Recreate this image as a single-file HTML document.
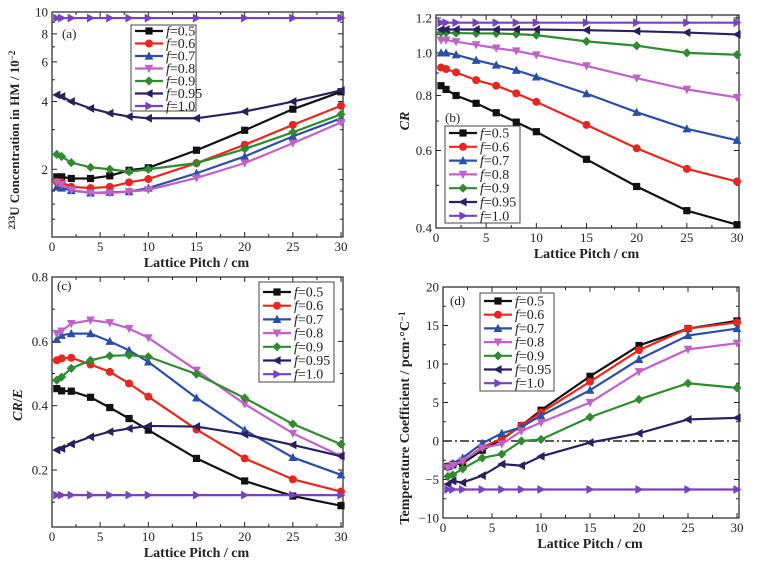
<!DOCTYPE html>
<html><head><meta charset="utf-8"><style>
body{margin:0;background:#fff;width:784px;height:568px;overflow:hidden}
svg{font-family:"Liberation Serif",serif}
</style></head><body>
<svg id="c" width="784" height="568" xmlns="http://www.w3.org/2000/svg"></svg>
<script>
const xs=[0.5,1,2,4,6,8,10,15,20,25,30];
const seriesNames=["f=0.5","f=0.6","f=0.7","f=0.8","f=0.9","f=0.95","f=1.0"];
const colors=["#111","#e8261d","#2a4fa8","#c060c8","#2e8b2e","#2a2060","#7a40c0"];
const markers=["sq","ci","tu","td","di","tl","tr"];
// (a) U233 concentration
const aF05=[1.85,1.85,1.82,1.82,1.87,1.98,2.03,2.43,2.98,3.70,4.42];
const aF06=[1.76,1.75,1.67,1.65,1.67,1.75,1.81,2.13,2.57,3.15,3.83];
const aF07=[1.67,1.65,1.61,1.57,1.58,1.59,1.65,1.92,2.28,2.80,3.37];
const aF08=[1.75,1.71,1.62,1.57,1.57,1.59,1.62,1.83,2.13,2.61,3.23];
const aF09=[2.33,2.28,2.14,2.04,2.0,1.95,2.0,2.13,2.46,2.92,3.51];
const aF095=[4.28,4.21,4.0,3.73,3.55,3.43,3.37,3.37,3.61,4.0,4.48];
const aF10=[9.4,9.4,9.4,9.4,9.4,9.4,9.4,9.4,9.4,9.4,9.4];
// (b) CR
const bF05=[0.842,0.826,0.80,0.768,0.731,0.696,0.662,0.573,0.497,0.438,0.407];
const bF06=[0.926,0.919,0.903,0.867,0.842,0.809,0.774,0.686,0.607,0.545,0.510];
const bF07=[1.0,1.0,0.99,0.962,0.938,0.913,0.882,0.808,0.733,0.672,0.633];
const bF08=[1.069,1.069,1.06,1.043,1.025,1.01,0.989,0.934,0.876,0.826,0.792];
const bF09=[1.112,1.112,1.109,1.107,1.107,1.103,1.097,1.062,1.038,1.0,0.99];
const bF095=[1.13,1.13,1.13,1.13,1.13,1.13,1.13,1.126,1.12,1.112,1.101];
const bF10=[1.171,1.171,1.171,1.171,1.171,1.171,1.171,1.171,1.171,1.171,1.171];
// (c) CR/E
const cF05=[0.453,0.446,0.445,0.426,0.394,0.360,0.324,0.236,0.166,0.119,0.089];
const cF06=[0.541,0.547,0.549,0.528,0.505,0.469,0.428,0.326,0.236,0.171,0.133];
const cF07=[0.606,0.619,0.624,0.624,0.600,0.572,0.536,0.424,0.324,0.239,0.185];
const cF08=[0.624,0.632,0.655,0.666,0.658,0.640,0.611,0.510,0.405,0.314,0.243];
const cF09=[0.479,0.489,0.516,0.541,0.555,0.557,0.552,0.498,0.424,0.343,0.280];
const cF095=[0.262,0.267,0.281,0.303,0.319,0.329,0.337,0.335,0.311,0.278,0.243];
const cF10=[0.122,0.122,0.122,0.122,0.122,0.122,0.122,0.122,0.122,0.122,0.122];
// (d) Temperature coefficient
const dF05=[-3.3,-3.1,-2.9,-1.2,0.2,2.0,4.0,8.4,12.4,14.6,15.6];
const dF06=[-3.4,-3.0,-2.6,-0.8,0.3,2.0,3.7,7.7,11.8,14.6,15.4];
const dF07=[-3.3,-2.9,-2.2,-0.3,1.0,1.8,3.3,6.6,10.6,13.7,14.6];
const dF08=[-3.5,-3.2,-2.6,-0.9,-0.4,1.3,2.4,5.0,9.0,11.9,12.7];
const dF09=[-4.6,-4.4,-3.6,-2.2,-1.7,0.0,0.2,3.1,5.4,7.5,6.9];
const dF095=[-5.6,-5.2,-5.4,-4.5,-3.0,-3.2,-2.0,-0.2,1.0,2.8,3.0];
const dF10=[-6.3,-6.3,-6.3,-6.3,-6.3,-6.3,-6.3,-6.3,-6.3,-6.3,-6.3];
const xTicks=[0,5,10,15,20,25,30];
const aTicks=[2,4,6,8,10];
const bTicks=[0.4,0.6,0.8,1.0,1.2];
const cTicks=[0.2,0.4,0.6,0.8];
const dTicks=[-10,-5,0,5,10,15,20];

const svg=document.getElementById('c');
const NS="http://www.w3.org/2000/svg";
function mk(tag,at,parent){const e=document.createElementNS(NS,tag);for(const k in at)e.setAttribute(k,at[k]);(parent||svg).appendChild(e);return e;}

function marker(g,type,x,y,col){
  const s=3.6;let e;
  if(type==="sq")e=mk('rect',{x:x-s,y:y-s,width:2*s,height:2*s,fill:col},g);
  else if(type==="ci")e=mk('circle',{cx:x,cy:y,r:s+0.4,fill:col},g);
  else{let p;
    if(type==="tu")p=[[x,y-s-1],[x-s-0.8,y+s],[x+s+0.8,y+s]];
    if(type==="td")p=[[x,y+s+1],[x-s-0.8,y-s],[x+s+0.8,y-s]];
    if(type==="di")p=[[x,y-s-1],[x+s+1,y],[x,y+s+1],[x-s-1,y]];
    if(type==="tl")p=[[x-s-1,y],[x+s,y-s-0.8],[x+s,y+s+0.8]];
    if(type==="tr")p=[[x+s+1,y],[x-s,y-s-0.8],[x-s,y+s+0.8]];
    e=mk('polygon',{points:p.map(q=>q.join(',')).join(' '),fill:col},g);}
  
  
}

function panel(P){
  const g=mk('g',{});
  
  
  const X=v=>P.x0+(v-0)/30*(P.x1-P.x0);
  const Y=P.log?(v=>P.yA+(Math.log10(P.vA)-Math.log10(v))/(Math.log10(P.vA)-Math.log10(P.vB))*(P.yB-P.yA))
               :(v=>P.yA+(P.vA-v)/(P.vA-P.vB)*(P.yB-P.yA));
  const fr=mk('rect',{x:P.x0,y:P.ft,width:P.x1-P.x0+2,height:P.fb-P.ft,fill:'none',stroke:'#222','stroke-width':1.2},g);
  
  
  xTicks.forEach(t=>{
    const x=X(t);
    mk('line',{x1:x,y1:P.fb,x2:x,y2:P.fb-5,stroke:'#222'},g);
    mk('line',{x1:x,y1:P.ft,x2:x,y2:P.ft+5,stroke:'#222'},g);
    if(t<30){const xm=X(t+2.5);mk('line',{x1:xm,y1:P.fb,x2:xm,y2:P.fb-3,stroke:'#222'},g);mk('line',{x1:xm,y1:P.ft,x2:xm,y2:P.ft+3,stroke:'#222'},g);}
    const tx=mk('text',{x:x,y:P.fb+14,'text-anchor':'middle','font-size':13,fill:'#222'},g);
    tx.textContent=t;
    
    
  });
  P.ticks.forEach(t=>{
    const y=Y(t);
    mk('line',{x1:P.x0,y1:y,x2:P.x0+5,y2:y,stroke:'#222'},g);
    mk('line',{x1:P.x1+2,y1:y,x2:P.x1-3,y2:y,stroke:'#222'},g);
    const tx=mk('text',{x:P.x0-4,y:y+4.5,'text-anchor':'end','font-size':13,fill:'#222'},g);
    tx.textContent=P.fmt?P.fmt(t):t;
    
    
  });
  P.minor.forEach(t=>{const y=Y(t);
    mk('line',{x1:P.x0,y1:y,x2:P.x0+3,y2:y,stroke:'#222'},g);
    mk('line',{x1:P.x1+2,y1:y,x2:P.x1-1,y2:y,stroke:'#222'},g);});
  if(P.zero){const z=mk('line',{x1:P.x0,y1:Y(0),x2:P.x1,y2:Y(0),stroke:'#222','stroke-width':1.5,'stroke-dasharray':'9,3,2,3'},g);
    }
  P.data.forEach((arr,i)=>{
    const sg=mk('g',{},g);
    
    
    mk('polyline',{points:arr.map((v,j)=>X(xs[j])+','+Y(v)).join(' '),fill:'none',stroke:colors[i],'stroke-width':2.2},sg);
    arr.forEach((v,j)=>marker(sg,markers[i],X(xs[j]),Y(v),colors[i]));
  });
  const L=P.leg;
  const lg=mk('g',{},g);
  
  
  mk('rect',{x:L.x,y:L.y,width:L.w,height:L.h,fill:'#fff',stroke:'#444','stroke-width':1},lg);
  seriesNames.forEach((n,i)=>{
    const y=L.r0+i*L.dy;
    const eg=mk('g',{},lg);
    
    
    mk('line',{x1:L.x+4,y1:y,x2:L.x+32,y2:y,stroke:colors[i],'stroke-width':2.2},eg);
    marker(eg,markers[i],L.x+18,y,colors[i]);
    const t=mk('text',{x:L.x+35,y:y+4.5,'font-size':14,fill:'#222'},eg);
    t.innerHTML='<tspan font-style="italic">f</tspan>='+n.slice(2);
  });
  const pl=mk('text',{x:P.pl[0],y:P.pl[1],'font-size':13,fill:'#222'},g);
  pl.textContent=P.label;
  
  
  const xl=mk('text',{x:(P.x0+P.x1)/2,y:P.fb+30,'text-anchor':'middle','font-size':14,'font-weight':'bold',fill:'#222'},g);
  xl.textContent='Lattice Pitch / cm';
  
  
  const yl=mk('text',{x:0,y:0,'text-anchor':'middle','font-size':P.ylfs||13,'font-weight':'bold',fill:'#222',transform:`translate(${P.yl[0]},${P.yl[1]}) rotate(-90)`},g);
  yl.innerHTML=P.ytitle;
  
  
}
const logMinor=[1.2,1.4,1.6,1.8,3,5,7,9];
panel({name:'panel-a',label:'(a)',pl:[62,38],x0:52,x1:341,ft:12,fb:237,log:true,vA:10,yA:12,vB:1,yB:237,
  ticks:aTicks,minor:logMinor,data:[aF05,aF06,aF07,aF08,aF09,aF095,aF10],
  leg:{x:131,y:25,w:65,h:86,r0:31,dy:12.5},yl:[19,140],ylfs:13,
  ytitle:'<tspan font-size="9" dy="-4">233</tspan><tspan dy="4">U Concentration in HM / 10</tspan><tspan font-size="9" dy="-4">−2</tspan>'});
panel({name:'panel-b',label:'(b)',pl:[445,122],x0:436,x1:737,ft:15,fb:228,log:true,vA:1.2,yA:18,vB:0.4,yB:228,
  ticks:bTicks,minor:[0.5,0.7,0.9,1.1],fmt:t=>t.toFixed(1),data:[bF05,bF06,bF07,bF08,bF09,bF095,bF10],
  leg:{x:445,y:126,w:75,h:97,r0:133,dy:13.8},yl:[409,121],ylfs:14,ytitle:'<tspan font-style="italic">CR</tspan>'});
panel({name:'panel-c',label:'(c)',pl:[57,290],x0:52,x1:341,ft:277,fb:527,log:false,vA:0.8,yA:277,vB:0.2,yB:470,
  ticks:cTicks,minor:[0.1,0.3,0.5,0.7],fmt:t=>t.toFixed(1),data:[cF05,cF06,cF07,cF08,cF09,cF095,cF10],
  leg:{x:259,y:282,w:75,h:100,r0:292,dy:13.7},yl:[22,405],ylfs:14,ytitle:'<tspan font-style="italic">CR</tspan>/<tspan font-style="italic">E</tspan>'});
panel({name:'panel-d',label:'(d)',pl:[450,305],x0:443,x1:737,ft:287,fb:518,log:false,vA:20,yA:287,vB:-10,yB:518,zero:true,
  ticks:dTicks,minor:[-7.5,-2.5,2.5,7.5,12.5,17.5],fmt:t=>t<0?'−'+(-t):t,data:[dF05,dF06,dF07,dF08,dF09,dF095,dF10],
  leg:{x:480,y:293,w:74,h:98,r0:301,dy:13.7},yl:[409,418],ylfs:14,
  ytitle:'Temperature Coefficient / pcm·°C<tspan font-size="9" dy="-4">−1</tspan>'});
</script>
</body></html>
